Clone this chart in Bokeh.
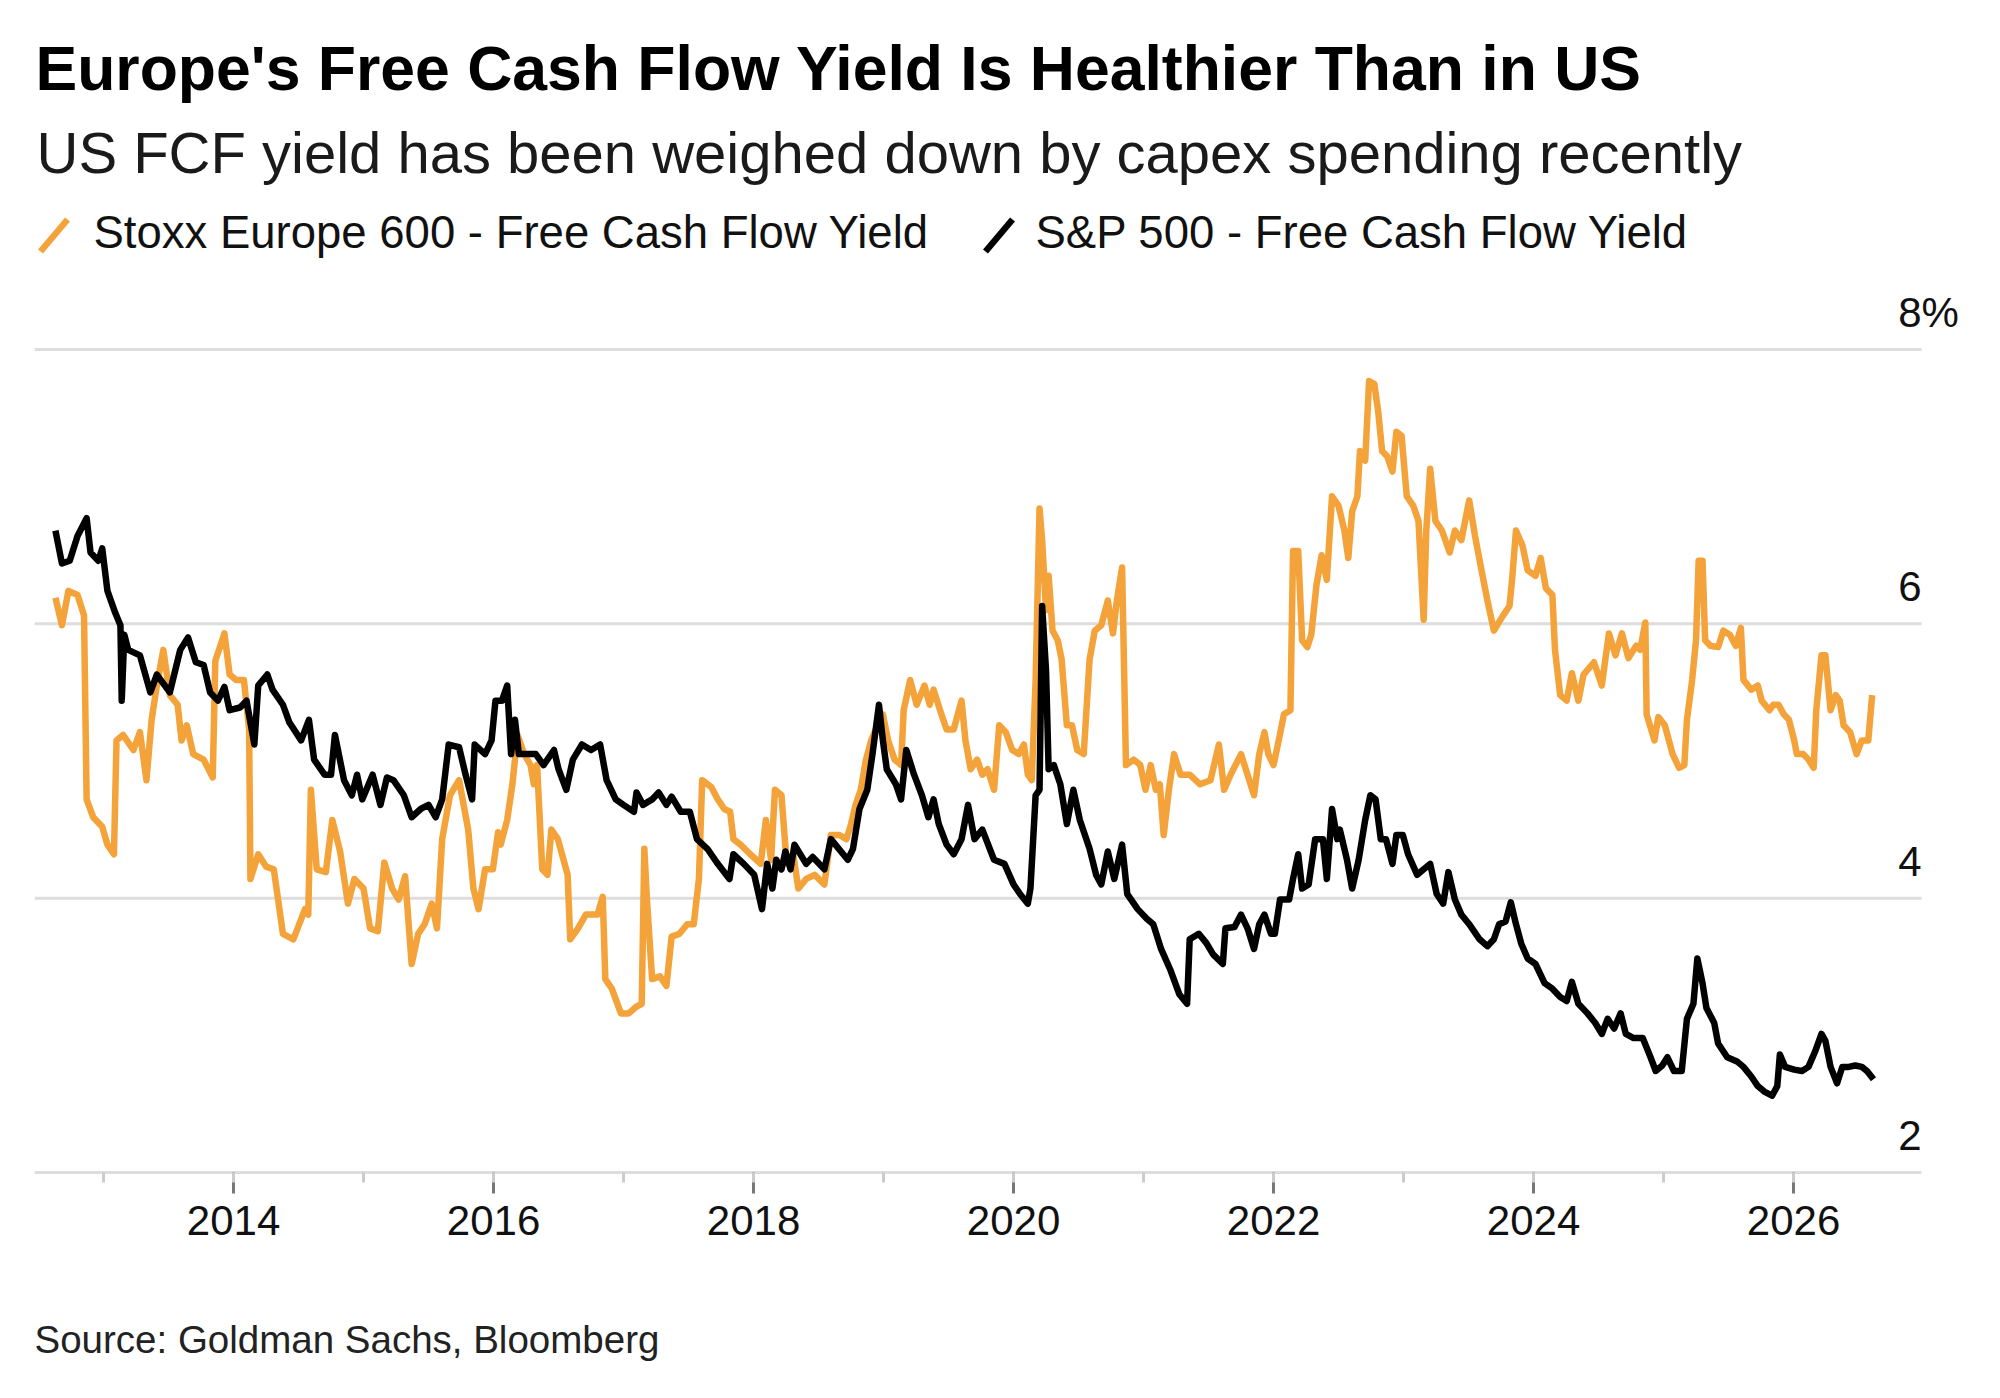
from bokeh.plotting import figure
from bokeh.models import Range1d, FixedTicker, Label, Arrow, Title
from bokeh.embed import file_html
from bokeh.resources import INLINE

# ---------------- data ----------------
stoxx_year = [
    2012.63, 2012.68, 2012.73, 2012.80, 2012.85, 2012.87, 2012.92, 2012.99, 2013.03, 2013.08,
    2013.10, 2013.15, 2013.23, 2013.28, 2013.33, 2013.37, 2013.41, 2013.46, 2013.51, 2013.57,
    2013.60, 2013.64, 2013.69, 2013.77, 2013.84, 2013.86, 2013.93, 2013.97, 2014.02, 2014.08,
    2014.12, 2014.13, 2014.19, 2014.25, 2014.31, 2014.38, 2014.46, 2014.55, 2014.575, 2014.595,
    2014.64, 2014.71, 2014.76, 2014.82, 2014.88, 2014.93, 2015.00, 2015.05, 2015.11, 2015.16,
    2015.22, 2015.27, 2015.32, 2015.37, 2015.42, 2015.47, 2015.525, 2015.565, 2015.605, 2015.665,
    2015.735, 2015.805, 2015.845, 2015.885, 2015.935, 2015.995, 2016.035, 2016.055, 2016.105, 2016.145,
    2016.185, 2016.235, 2016.285, 2016.31, 2016.335, 2016.375, 2016.415, 2016.445, 2016.495, 2016.57,
    2016.59, 2016.65, 2016.71, 2016.80, 2016.84, 2016.86, 2016.91, 2016.98, 2017.04, 2017.10,
    2017.14, 2017.16, 2017.18, 2017.22, 2017.28, 2017.33, 2017.37, 2017.43, 2017.49, 2017.54,
    2017.58, 2017.605, 2017.675, 2017.725, 2017.775, 2017.82, 2017.845, 2017.90, 2017.975, 2018.055,
    2018.095, 2018.135, 2018.165, 2018.215, 2018.255, 2018.305, 2018.345, 2018.405, 2018.47, 2018.545,
    2018.595, 2018.66, 2018.715, 2018.75, 2018.785, 2018.825, 2018.865, 2018.905, 2018.955, 2018.995,
    2019.035, 2019.085, 2019.135, 2019.155, 2019.205, 2019.255, 2019.315, 2019.355, 2019.385, 2019.435,
    2019.485, 2019.54, 2019.60, 2019.63, 2019.67, 2019.72, 2019.76, 2019.80, 2019.85, 2019.89,
    2019.94, 2019.99, 2020.04, 2020.08, 2020.11, 2020.14, 2020.17, 2020.20, 2020.22, 2020.25,
    2020.27, 2020.30, 2020.34, 2020.37, 2020.41, 2020.45, 2020.49, 2020.54, 2020.585, 2020.625,
    2020.675, 2020.725, 2020.765, 2020.795, 2020.835, 2020.865, 2020.925, 2020.975, 2021.015, 2021.055,
    2021.095, 2021.125, 2021.155, 2021.195, 2021.235, 2021.285, 2021.355, 2021.435, 2021.515, 2021.58,
    2021.62, 2021.67, 2021.75, 2021.80, 2021.85, 2021.89, 2021.93, 2021.96, 2022.00, 2022.04,
    2022.08, 2022.13, 2022.15, 2022.19, 2022.22, 2022.26, 2022.29, 2022.33, 2022.37, 2022.41,
    2022.45, 2022.50, 2022.545, 2022.575, 2022.605, 2022.645, 2022.665, 2022.705, 2022.735, 2022.775,
    2022.805, 2022.835, 2022.875, 2022.915, 2022.945, 2022.985, 2023.025, 2023.075, 2023.115, 2023.155,
    2023.175, 2023.205, 2023.245, 2023.295, 2023.355, 2023.395, 2023.445, 2023.505, 2023.55, 2023.60,
    2023.645, 2023.695, 2023.765, 2023.815, 2023.835, 2023.865, 2023.915, 2023.955, 2024.015, 2024.055,
    2024.095, 2024.145, 2024.165, 2024.205, 2024.255, 2024.295, 2024.345, 2024.385, 2024.465, 2024.525,
    2024.58, 2024.63, 2024.68, 2024.73, 2024.79, 2024.82, 2024.86, 2024.87, 2024.93, 2024.96,
    2025.01, 2025.07, 2025.12, 2025.16, 2025.18, 2025.22, 2025.25, 2025.27, 2025.30, 2025.32,
    2025.36, 2025.42, 2025.46, 2025.51, 2025.555, 2025.595, 2025.615, 2025.675, 2025.725, 2025.755,
    2025.815, 2025.845, 2025.885, 2025.925, 2025.965, 2026.005, 2026.025, 2026.075, 2026.115, 2026.155,
    2026.175, 2026.215, 2026.245, 2026.285, 2026.325, 2026.355, 2026.385, 2026.435, 2026.485, 2026.525,
    2026.575, 2026.605,
]
stoxx_fcf = [
    6.19, 5.99, 6.24, 6.21, 6.06, 4.72, 4.59, 4.52, 4.39, 4.32,
    5.15, 5.19, 5.08, 5.21, 4.86, 5.30, 5.55, 5.81, 5.48, 5.41,
    5.15, 5.26, 5.05, 5.01, 4.88, 5.73, 5.93, 5.63, 5.59, 5.59,
    5.23, 4.14, 4.32, 4.23, 4.21, 3.74, 3.70, 3.92, 3.88, 4.79,
    4.21, 4.19, 4.57, 4.34, 3.96, 4.14, 4.07, 3.78, 3.76, 4.26,
    4.07, 3.99, 4.16, 3.52, 3.74, 3.81, 3.96, 3.78, 4.43, 4.75,
    4.86, 4.50, 4.07, 3.92, 4.21, 4.21, 4.48, 4.39, 4.57, 4.83,
    5.19, 5.05, 4.97, 4.83, 4.97, 4.21, 4.17, 4.50, 4.43, 4.17,
    3.70, 3.78, 3.88, 3.88, 4.01, 3.41, 3.34, 3.16, 3.16, 3.21,
    3.23, 4.36, 3.99, 3.41, 3.43, 3.36, 3.72, 3.74, 3.81, 3.81,
    4.14, 4.86, 4.81, 4.72, 4.65, 4.63, 4.43, 4.39, 4.32, 4.25,
    4.57, 4.28, 4.79, 4.75, 4.25, 4.32, 4.07, 4.14, 4.17, 4.10,
    4.46, 4.46, 4.43, 4.54, 4.68, 4.79, 5.01, 5.15, 5.26, 5.34,
    5.15, 5.01, 4.97, 5.37, 5.59, 5.41, 5.55, 5.41, 5.52, 5.37,
    5.23, 5.23, 5.44, 5.15, 4.94, 5.01, 4.90, 4.94, 4.79, 5.26,
    5.21, 5.08, 5.05, 5.12, 4.90, 4.86, 5.59, 6.84, 6.61, 6.10,
    6.35, 5.95, 5.88, 5.74, 5.26, 5.26, 5.08, 5.05, 5.74, 5.95,
    5.99, 6.17, 5.93, 6.17, 6.41, 4.97, 5.01, 4.97, 4.79, 4.97,
    4.79, 4.83, 4.46, 4.79, 5.05, 4.90, 4.90, 4.83, 4.86, 5.12,
    4.79, 4.90, 5.05, 4.90, 4.75, 5.05, 5.21, 5.05, 4.97, 5.15,
    5.34, 5.37, 6.53, 6.53, 5.88, 5.83, 5.92, 6.28, 6.50, 6.32,
    6.93, 6.86, 6.68, 6.48, 6.82, 6.93, 7.26, 7.19, 7.77, 7.75,
    7.55, 7.26, 7.22, 7.11, 7.40, 7.37, 6.93, 6.86, 6.75, 6.03,
    6.68, 7.13, 6.75, 6.68, 6.52, 6.68, 6.61, 6.90, 6.64, 6.39,
    6.17, 5.95, 6.06, 6.13, 6.32, 6.68, 6.57, 6.39, 6.35, 6.48,
    6.26, 6.21, 5.81, 5.48, 5.44, 5.64, 5.44, 5.63, 5.72, 5.55,
    5.93, 5.77, 5.93, 5.75, 5.84, 5.81, 6.01, 5.34, 5.15, 5.32,
    5.26, 5.05, 4.95, 4.97, 5.30, 5.59, 5.88, 6.46, 6.46, 5.88,
    5.84, 5.83, 5.95, 5.92, 5.84, 5.97, 5.59, 5.52, 5.55, 5.44,
    5.37, 5.41, 5.41, 5.34, 5.30, 5.15, 5.05, 5.05, 5.01, 4.95,
    5.37, 5.77, 5.77, 5.37, 5.48, 5.44, 5.26, 5.21, 5.05, 5.15,
    5.15, 5.48,
]

spx_year = [
    2012.63, 2012.68, 2012.74, 2012.80, 2012.87, 2012.90, 2012.96, 2012.99, 2013.03, 2013.09,
    2013.13, 2013.14, 2013.16, 2013.19, 2013.28, 2013.36, 2013.41, 2013.51, 2013.59, 2013.65,
    2013.71, 2013.77, 2013.82, 2013.88, 2013.93, 2013.97, 2014.05, 2014.10, 2014.16, 2014.19,
    2014.26, 2014.30, 2014.38, 2014.43, 2014.52, 2014.58, 2014.62, 2014.70, 2014.75, 2014.78,
    2014.85, 2014.91, 2014.95, 2014.99, 2015.07, 2015.13, 2015.18, 2015.23, 2015.31, 2015.37,
    2015.44, 2015.50, 2015.555, 2015.605, 2015.655, 2015.735, 2015.785, 2015.835, 2015.855, 2015.935,
    2015.985, 2016.015, 2016.065, 2016.105, 2016.135, 2016.165, 2016.195, 2016.255, 2016.325, 2016.385,
    2016.465, 2016.50, 2016.56, 2016.61, 2016.68, 2016.75, 2016.82, 2016.87, 2016.94, 2017.00,
    2017.08, 2017.10, 2017.15, 2017.22, 2017.27, 2017.33, 2017.37, 2017.44, 2017.51, 2017.565,
    2017.645, 2017.725, 2017.815, 2017.845, 2017.925, 2018.005, 2018.065, 2018.105, 2018.145, 2018.175,
    2018.215, 2018.245, 2018.285, 2018.315, 2018.405, 2018.455, 2018.545, 2018.595, 2018.725, 2018.765,
    2018.815, 2018.875, 2018.915, 2018.965, 2018.995, 2019.025, 2019.095, 2019.135, 2019.175, 2019.235,
    2019.295, 2019.345, 2019.385, 2019.425, 2019.485, 2019.54, 2019.60, 2019.65, 2019.70, 2019.76,
    2019.85, 2019.93, 2020.00, 2020.05, 2020.11, 2020.13, 2020.17, 2020.20, 2020.22, 2020.25,
    2020.27, 2020.31, 2020.36, 2020.41, 2020.46, 2020.51, 2020.585, 2020.635, 2020.675, 2020.725,
    2020.775, 2020.835, 2020.875, 2020.955, 2021.025, 2021.075, 2021.135, 2021.205, 2021.275, 2021.335,
    2021.355, 2021.425, 2021.485, 2021.535, 2021.61, 2021.63, 2021.70, 2021.75, 2021.80, 2021.85,
    2021.89, 2021.93, 2021.98, 2022.01, 2022.05, 2022.12, 2022.15, 2022.19, 2022.22, 2022.27,
    2022.32, 2022.38, 2022.41, 2022.45, 2022.49, 2022.51, 2022.565, 2022.605, 2022.655, 2022.705,
    2022.745, 2022.785, 2022.825, 2022.865, 2022.915, 2022.945, 2022.995, 2023.035, 2023.105, 2023.155,
    2023.205, 2023.255, 2023.305, 2023.345, 2023.395, 2023.445, 2023.505, 2023.585, 2023.645, 2023.695,
    2023.735, 2023.785, 2023.825, 2023.865, 2023.905, 2023.955, 2024.015, 2024.085, 2024.145, 2024.205,
    2024.255, 2024.295, 2024.345, 2024.415, 2024.475, 2024.525, 2024.57, 2024.62, 2024.67, 2024.71,
    2024.77, 2024.84, 2024.90, 2024.94, 2024.99, 2025.03, 2025.08, 2025.14, 2025.18, 2025.23,
    2025.26, 2025.30, 2025.33, 2025.39, 2025.42, 2025.49, 2025.565, 2025.615, 2025.675, 2025.725,
    2025.775, 2025.835, 2025.875, 2025.895, 2025.935, 2026.005, 2026.065, 2026.115, 2026.165, 2026.215,
    2026.245, 2026.285, 2026.335, 2026.375, 2026.425, 2026.475, 2026.525, 2026.565, 2026.615,
]
spx_fcf = [
    6.68, 6.44, 6.46, 6.64, 6.77, 6.52, 6.46, 6.55, 6.24, 6.08,
    5.99, 5.44, 5.92, 5.81, 5.77, 5.50, 5.63, 5.50, 5.81, 5.90,
    5.72, 5.70, 5.50, 5.44, 5.54, 5.37, 5.39, 5.44, 5.12, 5.55,
    5.63, 5.52, 5.41, 5.28, 5.15, 5.30, 5.01, 4.90, 4.90, 5.19,
    4.86, 4.75, 4.90, 4.72, 4.90, 4.68, 4.88, 4.86, 4.75, 4.59,
    4.65, 4.68, 4.59, 4.72, 5.12, 5.10, 4.90, 4.72, 5.12, 5.05,
    5.15, 5.44, 5.44, 5.55, 5.05, 5.30, 5.05, 5.05, 5.05, 4.97,
    5.08, 4.94, 4.79, 5.01, 5.12, 5.08, 5.12, 4.86, 4.72, 4.68,
    4.63, 4.77, 4.68, 4.72, 4.77, 4.68, 4.74, 4.63, 4.63, 4.43,
    4.36, 4.25, 4.14, 4.32, 4.25, 4.17, 3.92, 4.25, 4.07, 4.28,
    4.21, 4.34, 4.21, 4.39, 4.25, 4.30, 4.21, 4.43, 4.28, 4.36,
    4.65, 4.79, 5.05, 5.41, 5.15, 4.94, 4.83, 4.72, 5.08, 4.90,
    4.75, 4.59, 4.72, 4.54, 4.39, 4.32, 4.43, 4.68, 4.43, 4.50,
    4.28, 4.25, 4.10, 4.03, 3.96, 4.07, 4.75, 4.79, 6.13, 5.66,
    4.94, 4.97, 4.83, 4.54, 4.79, 4.57, 4.36, 4.17, 4.10, 4.34,
    4.14, 4.39, 4.03, 3.92, 3.85, 3.81, 3.63, 3.48, 3.30, 3.23,
    3.70, 3.74, 3.67, 3.59, 3.52, 3.78, 3.79, 3.88, 3.78, 3.63,
    3.81, 3.88, 3.74, 3.74, 3.99, 3.99, 4.14, 4.32, 4.07, 4.10,
    4.43, 4.43, 4.14, 4.65, 4.43, 4.50, 4.28, 4.07, 4.28, 4.57,
    4.75, 4.72, 4.43, 4.43, 4.25, 4.46, 4.46, 4.32, 4.17, 4.21,
    4.25, 4.03, 3.96, 4.19, 3.99, 3.88, 3.81, 3.70, 3.65, 3.70,
    3.81, 3.83, 3.97, 3.81, 3.67, 3.56, 3.52, 3.38, 3.34, 3.28,
    3.25, 3.39, 3.23, 3.16, 3.09, 3.01, 3.12, 3.05, 3.16, 3.01,
    2.98, 2.98, 2.84, 2.74, 2.78, 2.84, 2.74, 2.74, 3.12, 3.23,
    3.56, 3.38, 3.20, 3.09, 2.94, 2.84, 2.81, 2.77, 2.70, 2.63,
    2.59, 2.56, 2.63, 2.86, 2.77, 2.75, 2.74, 2.77, 2.88, 3.01,
    2.96, 2.77, 2.65, 2.77, 2.77, 2.78, 2.77, 2.74, 2.68,
]

year_ticks = [2014, 2016, 2018, 2020, 2022, 2024, 2026]
minor_years = [2013, 2014, 2015, 2016, 2017, 2018, 2019, 2020, 2021, 2022, 2023, 2024, 2025, 2026]
y_ticks = [2, 4, 6, 8]
y_tick_labels = ["2", "4", "6", "8"]
grid_values = [4, 6, 8]

# plot area: x from X_START to X_END, y from 2 to 8
X_START, X_END = 2012.469, 2026.985
Y_START, Y_END = 2, 8
# the drawing frame reaches past the plot area so that the texts above and right are drawn
FRAME_X_END = 2027.469
FRAME_Y_END = 10.544

title_text = "Europe's Free Cash Flow Yield Is Healthier Than in US"
subtitle_text = "US FCF yield has been weighed down by capex spending recently"
legend_names = ["Stoxx Europe 600 - Free Cash Flow Yield", "S&P 500 - Free Cash Flow Yield"]
source_text = "Source: Goldman Sachs, Bloomberg"

ORANGE = "#F4A23A"
BLACK = "#000000"
GRID = "#dddddd"
FONT = "Liberation Sans"

# ---------------- figure ----------------
W, H = 1984, 1382
p = figure(width=W, height=H, output_backend="svg", toolbar_location=None,
           x_range=Range1d(X_START, FRAME_X_END), y_range=Range1d(Y_START, FRAME_Y_END),
           y_axis_location=None,
           min_border_left=34, min_border_right=0, min_border_top=0, min_border_bottom=210)
p.outline_line_color = None
p.background_fill_color = "white"
p.border_fill_color = "white"
p.grid.visible = False

ax = p.xaxis[0]
ax.ticker = FixedTicker(ticks=year_ticks, minor_ticks=minor_years)
ax.bounds = (X_START, X_END)
ax.axis_line_color = GRID
ax.axis_line_width = 3
ax.major_tick_line_color = "#777777"
ax.major_tick_line_width = 3
ax.major_tick_out = 21
ax.major_tick_in = 0
ax.minor_tick_line_color = "#cccccc"
ax.minor_tick_line_width = 3
ax.minor_tick_out = 10
ax.minor_tick_in = 0
ax.major_label_text_font = FONT
ax.major_label_text_font_size = "42px"
ax.major_label_text_color = "#111111"
ax.major_label_standoff = 12
# blank axis label: only reserves the gap between the tick labels and the source line
ax.axis_label = " "
ax.axis_label_text_font_size = "1px"
ax.axis_label_standoff = 69

# horizontal grid lines across the plot area only
p.segment(x0=[X_START] * len(grid_values), x1=[X_END] * len(grid_values),
          y0=grid_values, y1=grid_values, line_color=GRID, line_width=3)

p.line(stoxx_year, stoxx_fcf, line_color=ORANGE, line_width=6.5, line_join="round")
p.line(spx_year, spx_fcf, line_color=BLACK, line_width=6.5, line_join="round")

# y labels sitting above their grid lines, right-aligned at the plot edge
for v, t in zip(y_ticks, y_tick_labels):
    p.add_layout(Label(x=X_END, y=v, text=t, text_align="right", text_baseline="middle",
                       y_offset=37, text_font=FONT, text_font_size="42px", text_color="#111111"))
p.add_layout(Label(x=X_END, y=y_ticks[-1], text="%", text_align="left", text_baseline="middle",
                   y_offset=37, text_font=FONT, text_font_size="42px", text_color="#111111"))

# headline texts
p.add_layout(Label(x=35, y=67, x_units="canvas", y_units="canvas", text=title_text,
                   text_font=FONT, text_font_style="bold", text_font_size="62.5px",
                   text_color="#000000", text_baseline="middle"))
p.add_layout(Label(x=36, y=152, x_units="canvas", y_units="canvas", text=subtitle_text,
                   text_font=FONT, text_font_size="58px",
                   text_color="#1a1a1a", text_baseline="middle"))

# legend
p.add_layout(Arrow(start=None, end=None, x_start=40, y_start=251, x_end=67, y_end=219,
                   start_units="canvas", end_units="canvas", line_color=ORANGE, line_width=6.5))
p.add_layout(Label(x=93, y=232, x_units="canvas", y_units="canvas", text=legend_names[0],
                   text_font=FONT, text_font_size="45.5px", text_color="#111111",
                   text_baseline="middle"))
p.add_layout(Arrow(start=None, end=None, x_start=985, y_start=251, x_end=1012, y_end=219,
                   start_units="canvas", end_units="canvas", line_color=BLACK, line_width=6.5))
p.add_layout(Label(x=1035, y=232, x_units="canvas", y_units="canvas", text=legend_names[1],
                   text_font=FONT, text_font_size="45.5px", text_color="#111111",
                   text_baseline="middle"))

# source line below the axis
p.add_layout(Title(text=source_text, align="left", text_font=FONT, text_font_size="38.5px",
                   text_font_style="normal", text_color="#222222", standoff=10), "below")

open("out.html", "w").write(file_html(p, INLINE))
